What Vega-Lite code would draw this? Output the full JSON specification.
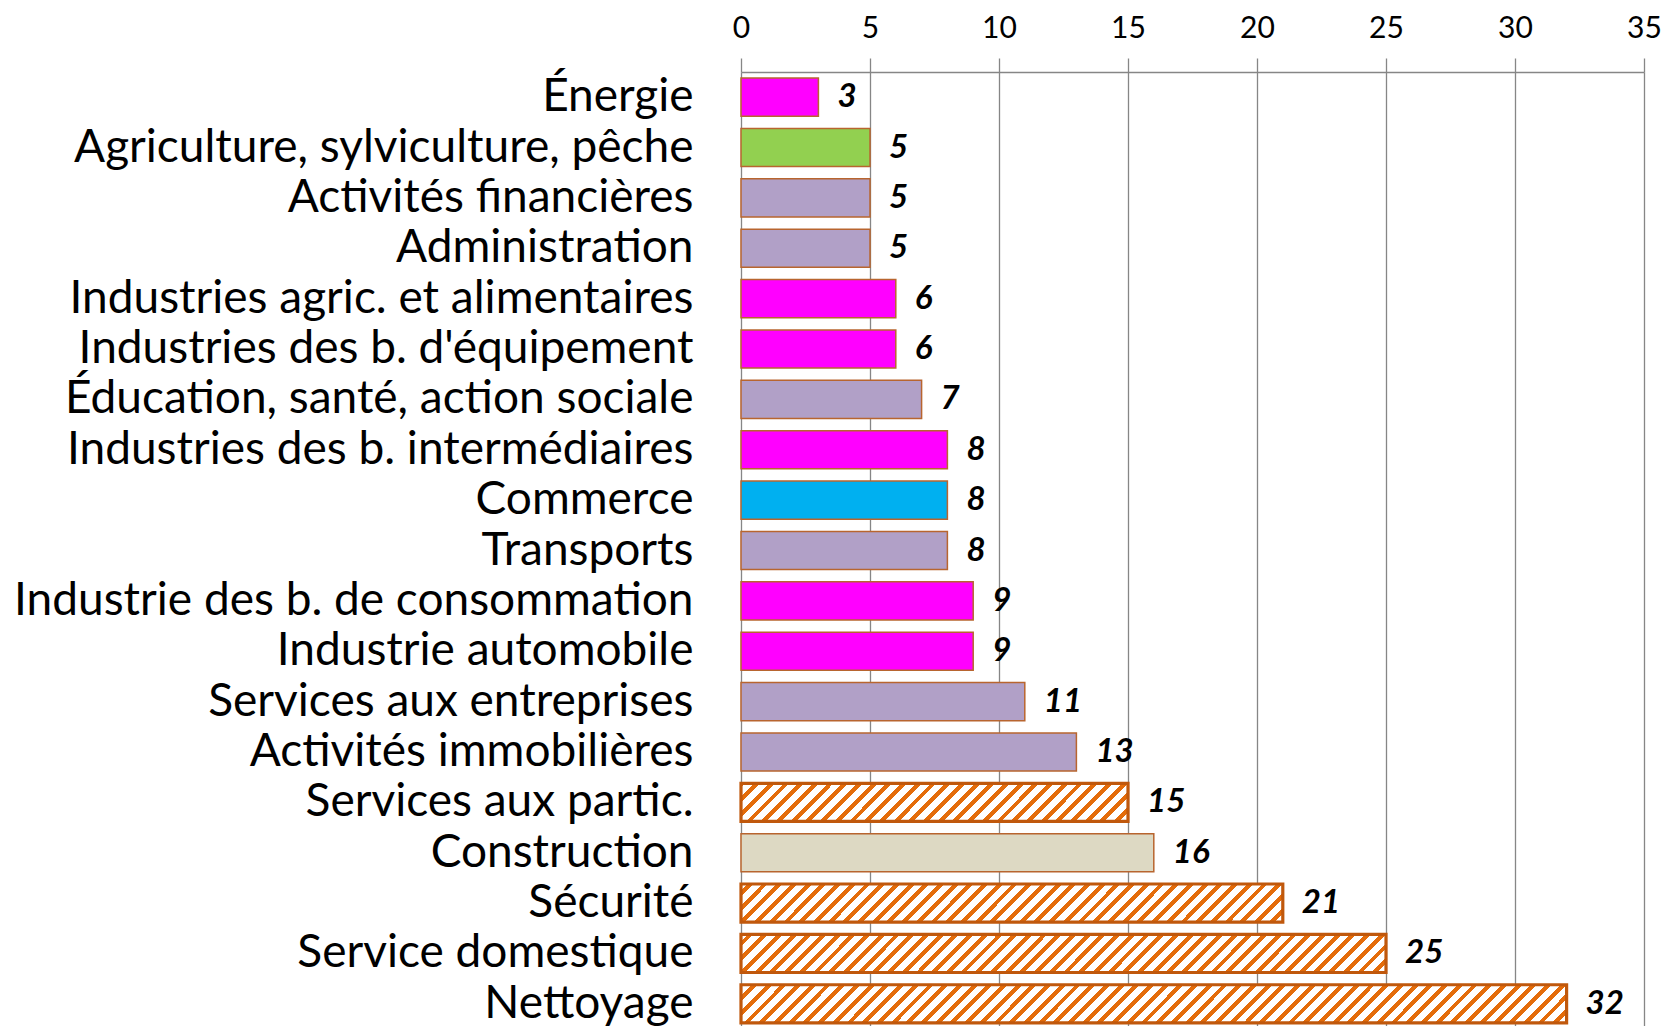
{
  "$schema": "https://vega.github.io/schema/vega-lite/v6.json",
  "width": 903,
  "height": 954,
  "autosize": {"type": "none"},
  "padding": {"left": 741, "top": 72, "right": 22, "bottom": 0},
  "background": "white",
  "config": {"view": {"stroke": null}, "font": "Lato"},
  "data": {
    "values": [
      {"secteur": "Énergie", "valeur": 3, "type": "Industrie"},
      {"secteur": "Agriculture, sylviculture, pêche", "valeur": 5, "type": "Agriculture"},
      {"secteur": "Activités financières", "valeur": 5, "type": "Tertiaire"},
      {"secteur": "Administration", "valeur": 5, "type": "Tertiaire"},
      {"secteur": "Industries agric. et alimentaires", "valeur": 6, "type": "Industrie"},
      {"secteur": "Industries des b. d'équipement", "valeur": 6, "type": "Industrie"},
      {"secteur": "Éducation, santé, action sociale", "valeur": 7, "type": "Tertiaire"},
      {"secteur": "Industries des b. intermédiaires", "valeur": 8, "type": "Industrie"},
      {"secteur": "Commerce", "valeur": 8, "type": "Commerce"},
      {"secteur": "Transports", "valeur": 8, "type": "Tertiaire"},
      {"secteur": "Industrie des b. de consommation", "valeur": 9, "type": "Industrie"},
      {"secteur": "Industrie automobile", "valeur": 9, "type": "Industrie"},
      {"secteur": "Services aux entreprises", "valeur": 11, "type": "Tertiaire"},
      {"secteur": "Activités immobilières", "valeur": 13, "type": "Tertiaire"},
      {"secteur": "Services aux partic.", "valeur": 15, "type": "Hachuré"},
      {"secteur": "Construction", "valeur": 16, "type": "Construction"},
      {"secteur": "Sécurité", "valeur": 21, "type": "Hachuré"},
      {"secteur": "Service domestique", "valeur": 25, "type": "Hachuré"},
      {"secteur": "Nettoyage", "valeur": 32, "type": "Hachuré"}
    ]
  },
  "encoding": {
    "y": {
      "field": "secteur", "type": "nominal", "sort": null,
      "scale": {"paddingInner": 0.243, "paddingOuter": 0.1215, "range": [0, 957]},
      "axis": {"title": null, "orient": "left", "domain": false, "ticks": false, "tickSize": 0, "grid": false,
               "labelPadding": 48, "labelFont": "Lato", "labelFontSize": 46, "labelColor": "#000", "labelLimit": 900}
    },
    "x": {
      "field": "valeur", "type": "quantitative",
      "scale": {"domain": [0, 35], "nice": false},
      "axis": {"title": null, "orient": "top", "values": [0, 5, 10, 15, 20, 25, 30, 35],
               "grid": true, "gridColor": "#868686", "gridWidth": 1.3,
               "domainColor": "#868686", "domainWidth": 1.5,
               "tickColor": "#868686", "tickSize": 14, "tickWidth": 1.3,
               "labelFont": "Lato", "labelFontSize": 30, "labelColor": "#000",
               "labelPadding": 21, "labelBaseline": "alphabetic", "labelFlush": false}
    }
  },
  "layer": [
    {
      "mark": {"type": "bar", "stroke": "#b8652f", "strokeWidth": 1.5},
      "encoding": {
        "fill": {"field": "type", "type": "nominal", "legend": null,
                 "scale": {"domain": ["Industrie", "Agriculture", "Tertiaire", "Commerce", "Construction", "Hachuré"],
                           "range": ["#ff00ff", "#92d050", "#b1a0c7", "#00b0f0", "#ddd9c3", "#ffffff"]}}
      }
    },
    {
      "transform": [{"filter": "datum.type === 'Hachuré'"}],
      "mark": {"type": "bar", "clip": true, "x2Offset": -903, "strokeWidth": 0,
        "fill": {"gradient": "linear", "x1": 0, "y1": 0, "x2": 1.04024, "y2": 0.043776, "stops": [
{"offset":0,"color":"#e46c0a"},{"offset":0.00625,"color":"#e46c0a"},{"offset":0.00625,"color":"#fff"},{"offset":0.015625,"color":"#fff"},
{"offset":0.015625,"color":"#e46c0a"},{"offset":0.021875,"color":"#e46c0a"},{"offset":0.021875,"color":"#fff"},{"offset":0.03125,"color":"#fff"},
{"offset":0.03125,"color":"#e46c0a"},{"offset":0.0375,"color":"#e46c0a"},{"offset":0.0375,"color":"#fff"},{"offset":0.046875,"color":"#fff"},
{"offset":0.046875,"color":"#e46c0a"},{"offset":0.053125,"color":"#e46c0a"},{"offset":0.053125,"color":"#fff"},{"offset":0.0625,"color":"#fff"},
{"offset":0.0625,"color":"#e46c0a"},{"offset":0.06875,"color":"#e46c0a"},{"offset":0.06875,"color":"#fff"},{"offset":0.078125,"color":"#fff"},
{"offset":0.078125,"color":"#e46c0a"},{"offset":0.084375,"color":"#e46c0a"},{"offset":0.084375,"color":"#fff"},{"offset":0.09375,"color":"#fff"},
{"offset":0.09375,"color":"#e46c0a"},{"offset":0.1,"color":"#e46c0a"},{"offset":0.1,"color":"#fff"},{"offset":0.109375,"color":"#fff"},
{"offset":0.109375,"color":"#e46c0a"},{"offset":0.115625,"color":"#e46c0a"},{"offset":0.115625,"color":"#fff"},{"offset":0.125,"color":"#fff"},
{"offset":0.125,"color":"#e46c0a"},{"offset":0.13125,"color":"#e46c0a"},{"offset":0.13125,"color":"#fff"},{"offset":0.140625,"color":"#fff"},
{"offset":0.140625,"color":"#e46c0a"},{"offset":0.146875,"color":"#e46c0a"},{"offset":0.146875,"color":"#fff"},{"offset":0.15625,"color":"#fff"},
{"offset":0.15625,"color":"#e46c0a"},{"offset":0.1625,"color":"#e46c0a"},{"offset":0.1625,"color":"#fff"},{"offset":0.171875,"color":"#fff"},
{"offset":0.171875,"color":"#e46c0a"},{"offset":0.178125,"color":"#e46c0a"},{"offset":0.178125,"color":"#fff"},{"offset":0.1875,"color":"#fff"},
{"offset":0.1875,"color":"#e46c0a"},{"offset":0.19375,"color":"#e46c0a"},{"offset":0.19375,"color":"#fff"},{"offset":0.203125,"color":"#fff"},
{"offset":0.203125,"color":"#e46c0a"},{"offset":0.209375,"color":"#e46c0a"},{"offset":0.209375,"color":"#fff"},{"offset":0.21875,"color":"#fff"},
{"offset":0.21875,"color":"#e46c0a"},{"offset":0.225,"color":"#e46c0a"},{"offset":0.225,"color":"#fff"},{"offset":0.234375,"color":"#fff"},
{"offset":0.234375,"color":"#e46c0a"},{"offset":0.240625,"color":"#e46c0a"},{"offset":0.240625,"color":"#fff"},{"offset":0.25,"color":"#fff"},
{"offset":0.25,"color":"#e46c0a"},{"offset":0.25625,"color":"#e46c0a"},{"offset":0.25625,"color":"#fff"},{"offset":0.265625,"color":"#fff"},
{"offset":0.265625,"color":"#e46c0a"},{"offset":0.271875,"color":"#e46c0a"},{"offset":0.271875,"color":"#fff"},{"offset":0.28125,"color":"#fff"},
{"offset":0.28125,"color":"#e46c0a"},{"offset":0.2875,"color":"#e46c0a"},{"offset":0.2875,"color":"#fff"},{"offset":0.296875,"color":"#fff"},
{"offset":0.296875,"color":"#e46c0a"},{"offset":0.303125,"color":"#e46c0a"},{"offset":0.303125,"color":"#fff"},{"offset":0.3125,"color":"#fff"},
{"offset":0.3125,"color":"#e46c0a"},{"offset":0.31875,"color":"#e46c0a"},{"offset":0.31875,"color":"#fff"},{"offset":0.328125,"color":"#fff"},
{"offset":0.328125,"color":"#e46c0a"},{"offset":0.334375,"color":"#e46c0a"},{"offset":0.334375,"color":"#fff"},{"offset":0.34375,"color":"#fff"},
{"offset":0.34375,"color":"#e46c0a"},{"offset":0.35,"color":"#e46c0a"},{"offset":0.35,"color":"#fff"},{"offset":0.359375,"color":"#fff"},
{"offset":0.359375,"color":"#e46c0a"},{"offset":0.365625,"color":"#e46c0a"},{"offset":0.365625,"color":"#fff"},{"offset":0.375,"color":"#fff"},
{"offset":0.375,"color":"#e46c0a"},{"offset":0.38125,"color":"#e46c0a"},{"offset":0.38125,"color":"#fff"},{"offset":0.390625,"color":"#fff"},
{"offset":0.390625,"color":"#e46c0a"},{"offset":0.396875,"color":"#e46c0a"},{"offset":0.396875,"color":"#fff"},{"offset":0.40625,"color":"#fff"},
{"offset":0.40625,"color":"#e46c0a"},{"offset":0.4125,"color":"#e46c0a"},{"offset":0.4125,"color":"#fff"},{"offset":0.421875,"color":"#fff"},
{"offset":0.421875,"color":"#e46c0a"},{"offset":0.428125,"color":"#e46c0a"},{"offset":0.428125,"color":"#fff"},{"offset":0.4375,"color":"#fff"},
{"offset":0.4375,"color":"#e46c0a"},{"offset":0.44375,"color":"#e46c0a"},{"offset":0.44375,"color":"#fff"},{"offset":0.453125,"color":"#fff"},
{"offset":0.453125,"color":"#e46c0a"},{"offset":0.459375,"color":"#e46c0a"},{"offset":0.459375,"color":"#fff"},{"offset":0.46875,"color":"#fff"},
{"offset":0.46875,"color":"#e46c0a"},{"offset":0.475,"color":"#e46c0a"},{"offset":0.475,"color":"#fff"},{"offset":0.484375,"color":"#fff"},
{"offset":0.484375,"color":"#e46c0a"},{"offset":0.490625,"color":"#e46c0a"},{"offset":0.490625,"color":"#fff"},{"offset":0.5,"color":"#fff"},
{"offset":0.5,"color":"#e46c0a"},{"offset":0.50625,"color":"#e46c0a"},{"offset":0.50625,"color":"#fff"},{"offset":0.515625,"color":"#fff"},
{"offset":0.515625,"color":"#e46c0a"},{"offset":0.521875,"color":"#e46c0a"},{"offset":0.521875,"color":"#fff"},{"offset":0.53125,"color":"#fff"},
{"offset":0.53125,"color":"#e46c0a"},{"offset":0.5375,"color":"#e46c0a"},{"offset":0.5375,"color":"#fff"},{"offset":0.546875,"color":"#fff"},
{"offset":0.546875,"color":"#e46c0a"},{"offset":0.553125,"color":"#e46c0a"},{"offset":0.553125,"color":"#fff"},{"offset":0.5625,"color":"#fff"},
{"offset":0.5625,"color":"#e46c0a"},{"offset":0.56875,"color":"#e46c0a"},{"offset":0.56875,"color":"#fff"},{"offset":0.578125,"color":"#fff"},
{"offset":0.578125,"color":"#e46c0a"},{"offset":0.584375,"color":"#e46c0a"},{"offset":0.584375,"color":"#fff"},{"offset":0.59375,"color":"#fff"},
{"offset":0.59375,"color":"#e46c0a"},{"offset":0.6,"color":"#e46c0a"},{"offset":0.6,"color":"#fff"},{"offset":0.609375,"color":"#fff"},
{"offset":0.609375,"color":"#e46c0a"},{"offset":0.615625,"color":"#e46c0a"},{"offset":0.615625,"color":"#fff"},{"offset":0.625,"color":"#fff"},
{"offset":0.625,"color":"#e46c0a"},{"offset":0.63125,"color":"#e46c0a"},{"offset":0.63125,"color":"#fff"},{"offset":0.640625,"color":"#fff"},
{"offset":0.640625,"color":"#e46c0a"},{"offset":0.646875,"color":"#e46c0a"},{"offset":0.646875,"color":"#fff"},{"offset":0.65625,"color":"#fff"},
{"offset":0.65625,"color":"#e46c0a"},{"offset":0.6625,"color":"#e46c0a"},{"offset":0.6625,"color":"#fff"},{"offset":0.671875,"color":"#fff"},
{"offset":0.671875,"color":"#e46c0a"},{"offset":0.678125,"color":"#e46c0a"},{"offset":0.678125,"color":"#fff"},{"offset":0.6875,"color":"#fff"},
{"offset":0.6875,"color":"#e46c0a"},{"offset":0.69375,"color":"#e46c0a"},{"offset":0.69375,"color":"#fff"},{"offset":0.703125,"color":"#fff"},
{"offset":0.703125,"color":"#e46c0a"},{"offset":0.709375,"color":"#e46c0a"},{"offset":0.709375,"color":"#fff"},{"offset":0.71875,"color":"#fff"},
{"offset":0.71875,"color":"#e46c0a"},{"offset":0.725,"color":"#e46c0a"},{"offset":0.725,"color":"#fff"},{"offset":0.734375,"color":"#fff"},
{"offset":0.734375,"color":"#e46c0a"},{"offset":0.740625,"color":"#e46c0a"},{"offset":0.740625,"color":"#fff"},{"offset":0.75,"color":"#fff"},
{"offset":0.75,"color":"#e46c0a"},{"offset":0.75625,"color":"#e46c0a"},{"offset":0.75625,"color":"#fff"},{"offset":0.765625,"color":"#fff"},
{"offset":0.765625,"color":"#e46c0a"},{"offset":0.771875,"color":"#e46c0a"},{"offset":0.771875,"color":"#fff"},{"offset":0.78125,"color":"#fff"},
{"offset":0.78125,"color":"#e46c0a"},{"offset":0.7875,"color":"#e46c0a"},{"offset":0.7875,"color":"#fff"},{"offset":0.796875,"color":"#fff"},
{"offset":0.796875,"color":"#e46c0a"},{"offset":0.803125,"color":"#e46c0a"},{"offset":0.803125,"color":"#fff"},{"offset":0.8125,"color":"#fff"},
{"offset":0.8125,"color":"#e46c0a"},{"offset":0.81875,"color":"#e46c0a"},{"offset":0.81875,"color":"#fff"},{"offset":0.828125,"color":"#fff"},
{"offset":0.828125,"color":"#e46c0a"},{"offset":0.834375,"color":"#e46c0a"},{"offset":0.834375,"color":"#fff"},{"offset":0.84375,"color":"#fff"},
{"offset":0.84375,"color":"#e46c0a"},{"offset":0.85,"color":"#e46c0a"},{"offset":0.85,"color":"#fff"},{"offset":0.859375,"color":"#fff"},
{"offset":0.859375,"color":"#e46c0a"},{"offset":0.865625,"color":"#e46c0a"},{"offset":0.865625,"color":"#fff"},{"offset":0.875,"color":"#fff"},
{"offset":0.875,"color":"#e46c0a"},{"offset":0.88125,"color":"#e46c0a"},{"offset":0.88125,"color":"#fff"},{"offset":0.890625,"color":"#fff"},
{"offset":0.890625,"color":"#e46c0a"},{"offset":0.896875,"color":"#e46c0a"},{"offset":0.896875,"color":"#fff"},{"offset":0.90625,"color":"#fff"},
{"offset":0.90625,"color":"#e46c0a"},{"offset":0.9125,"color":"#e46c0a"},{"offset":0.9125,"color":"#fff"},{"offset":0.921875,"color":"#fff"},
{"offset":0.921875,"color":"#e46c0a"},{"offset":0.928125,"color":"#e46c0a"},{"offset":0.928125,"color":"#fff"},{"offset":0.9375,"color":"#fff"},
{"offset":0.9375,"color":"#e46c0a"},{"offset":0.94375,"color":"#e46c0a"},{"offset":0.94375,"color":"#fff"},{"offset":0.953125,"color":"#fff"},
{"offset":0.953125,"color":"#e46c0a"},{"offset":0.959375,"color":"#e46c0a"},{"offset":0.959375,"color":"#fff"},{"offset":0.96875,"color":"#fff"},
{"offset":0.96875,"color":"#e46c0a"},{"offset":0.975,"color":"#e46c0a"},{"offset":0.975,"color":"#fff"},{"offset":0.984375,"color":"#fff"},
{"offset":0.984375,"color":"#e46c0a"},{"offset":0.990625,"color":"#e46c0a"},{"offset":0.990625,"color":"#fff"},{"offset":1,"color":"#fff"}
        ]}
      },
      "encoding": {"x2": {"field": "valeur"}}
    },
    {
      "transform": [{"filter": "datum.type === 'Hachuré'"}],
      "mark": {"type": "bar", "fill": "#ffffff", "fillOpacity": 0, "stroke": "#c0580c", "strokeWidth": 3.2}
    },
    {
      "mark": {"type": "text", "align": "left", "baseline": "middle", "dx": 19, "font": "Lato",
               "fontSize": 33, "fontWeight": "bold", "fontStyle": "italic", "color": "#000"},
      "encoding": {"text": {"field": "valeur", "type": "quantitative"}}
    }
  ]
}
